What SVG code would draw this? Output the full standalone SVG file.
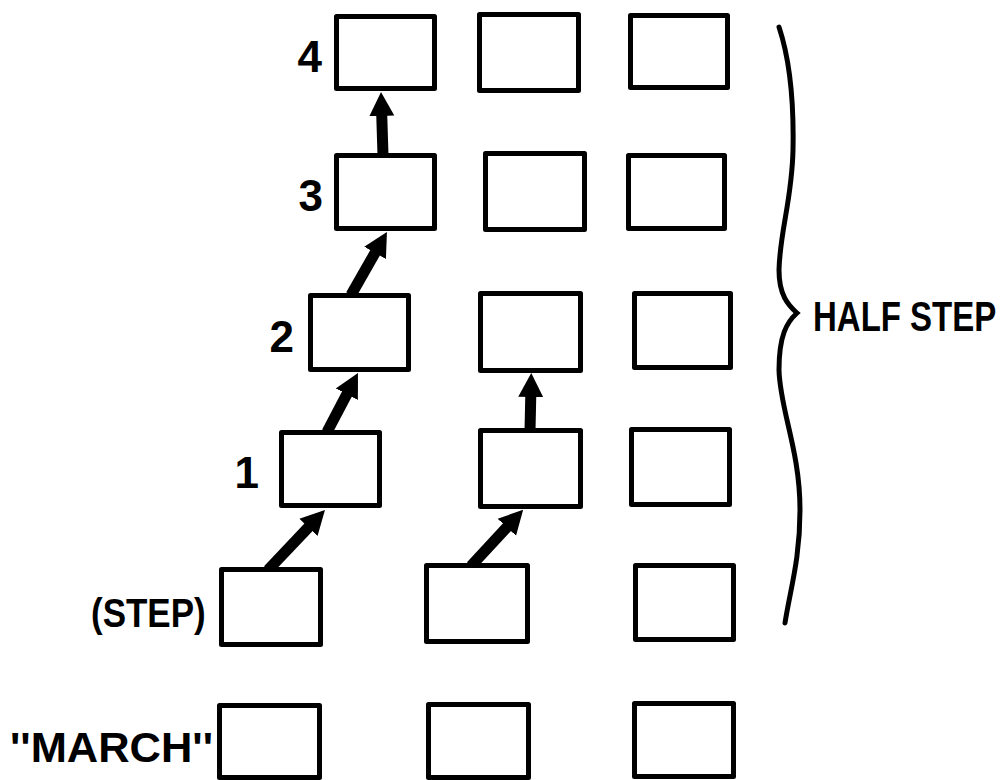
<svg xmlns="http://www.w3.org/2000/svg" width="1008" height="780" viewBox="0 0 1008 780">
<defs>
<style>
.box{fill:#fff;stroke:#000;stroke-width:5;stroke-linejoin:round}
.arr{fill:none;stroke:#000;stroke-width:11;stroke-linecap:butt;marker-end:url(#ah)}
.lbl{font-family:"Liberation Sans",Arial,sans-serif;font-weight:bold;fill:#000}
.brace{fill:none;stroke:#000;stroke-width:5;stroke-linecap:round}
</style>
<marker id="ah" markerUnits="userSpaceOnUse" markerWidth="28" markerHeight="28" viewBox="0 -14 28 28" refX="12" refY="0" orient="auto">
<path d="M0,-12.5 L24,0 L0,12.5 Z" fill="#000"/>
</marker>
</defs>
<rect width="1008" height="780" fill="#fff"/>
<g id="connectors">
<line class="arr" x1="383" y1="155" x2="381.4" y2="104"/>
<line class="arr" x1="351" y1="295" x2="381" y2="242.4"/>
<line class="arr" x1="327" y1="432" x2="352.4" y2="383.6"/>
<line class="arr" x1="268" y1="570" x2="316.7" y2="518.6"/>
<line class="arr" x1="471" y1="566" x2="515" y2="518.5"/>
<line class="arr" x1="530" y1="431" x2="531" y2="385"/>
</g>
<g id="col1-row4"><rect class="box" x="336.5" y="16.5" width="98" height="72"/></g>
<g id="col2-row4"><rect class="box" x="479.5" y="14.5" width="99" height="76"/></g>
<g id="col3-row4"><rect class="box" x="630.5" y="15.5" width="97" height="72"/></g>
<g id="col1-row3"><rect class="box" x="336.5" y="155.5" width="98" height="73"/></g>
<g id="col2-row3"><rect class="box" x="485.5" y="153.5" width="99" height="76"/></g>
<g id="col3-row3"><rect class="box" x="628.5" y="155.5" width="96" height="73"/></g>
<g id="col1-row2"><rect class="box" x="310.5" y="295.5" width="98" height="74"/></g>
<g id="col2-row2"><rect class="box" x="480.5" y="293.5" width="100" height="77"/></g>
<g id="col3-row2"><rect class="box" x="634.5" y="293.5" width="96" height="74"/></g>
<g id="col1-row1"><rect class="box" x="281.5" y="432.5" width="98" height="73"/></g>
<g id="col2-row1"><rect class="box" x="480.5" y="430.5" width="100" height="76"/></g>
<g id="col3-row1"><rect class="box" x="631.5" y="429.5" width="98" height="75"/></g>
<g id="col1-step"><rect class="box" x="221.5" y="569.5" width="99" height="75"/></g>
<g id="col2-step"><rect class="box" x="426.5" y="565.5" width="101" height="76"/></g>
<g id="col3-step"><rect class="box" x="635.5" y="565.5" width="98" height="74"/></g>
<g id="col1-march"><rect class="box" x="219.5" y="705.5" width="100" height="72"/></g>
<g id="col2-march"><rect class="box" x="428.5" y="704.5" width="100" height="73"/></g>
<g id="col3-march"><rect class="box" x="634.5" y="703.5" width="99" height="73"/></g>
<g id="labels">
<text class="lbl" style="font-size:44px" x="322" y="72" text-anchor="end">4</text>
<text class="lbl" style="font-size:44px" x="323" y="211" text-anchor="end">3</text>
<text class="lbl" style="font-size:44px" x="294" y="352" text-anchor="end">2</text>
<text class="lbl" style="font-size:44px" x="259" y="488" text-anchor="end">1</text>
<text class="lbl" style="font-size:35px" transform="translate(91,627) scale(1,1.14)" x="0" y="0">(STEP)</text>
<text class="lbl" style="font-size:43px" x="10" y="762" textLength="203" lengthAdjust="spacingAndGlyphs">''MARCH''</text>
<text class="lbl" style="font-size:33px" transform="translate(813,331) scale(1,1.28)" x="0" y="0">HALF STEP</text>
</g>
<g id="brace">
<path class="brace" d="M779,27 C790,60 794,100 793,150 C792,200 780,230 779,270 C779,295 788,305 797,313 C787,322 779,335 779,370 C780,410 800,450 800,510 C800,560 790,590 785,623"/>
</g>
</svg>
